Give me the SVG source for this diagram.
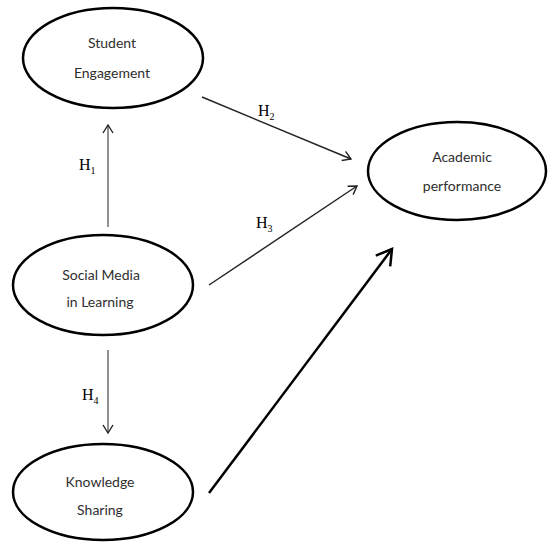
<svg xmlns="http://www.w3.org/2000/svg" width="549" height="543" viewBox="0 0 549 543">
<style>
.node ellipse{fill:#fff;stroke:#000;stroke-width:2.5}
.node text{font-family:Lato,"Open Sans",sans-serif;font-size:14px;fill:#2e2e2e;text-anchor:middle}
.lbl{font-family:"Liberation Serif",serif;font-size:16px;fill:#000}
.sub{font-size:10px}
.c{fill:none;stroke:#222;stroke-width:1.4}
.thin{stroke:#555;stroke-width:1.3}
.thick{stroke:#000;stroke-width:2.5}
</style>
<defs>
<marker id="ah" markerWidth="12" markerHeight="12" refX="10" refY="6" orient="auto" markerUnits="userSpaceOnUse">
<path d="M2,1 L10,6 L2,11" fill="none" stroke="#222" stroke-width="1.4"/>
</marker>
<marker id="ahb" markerWidth="22" markerHeight="22" refX="18" refY="11" orient="auto" markerUnits="userSpaceOnUse">
<path d="M3,2 L18,11 L3,20" fill="none" stroke="#000" stroke-width="2.5"/>
</marker>
</defs>
<rect width="549" height="543" fill="#fff"/>
<g id="connectors">
<line class="c thin" x1="108" y1="227" x2="108" y2="125" marker-end="url(#ah)"/>
<line class="c thin" x1="108" y1="350" x2="108" y2="433" marker-end="url(#ah)"/>
<line class="c" x1="202" y1="97" x2="351" y2="159" marker-end="url(#ah)"/>
<line class="c" x1="209" y1="285" x2="357" y2="186" marker-end="url(#ah)"/>
<line class="c thick" x1="209" y1="493" x2="392" y2="249" marker-end="url(#ahb)"/>
<text class="lbl" x="79" y="170">H<tspan class="sub" dy="4">1</tspan></text>
<text class="lbl" x="258" y="116">H<tspan class="sub" dy="4">2</tspan></text>
<text class="lbl" x="256" y="228">H<tspan class="sub" dy="4">3</tspan></text>
<text class="lbl" x="82" y="400">H<tspan class="sub" dy="4">4</tspan></text>
</g>
<g id="student-engagement" class="node">
<ellipse cx="113" cy="58" rx="90" ry="50"/>
<text x="112" y="48">Student</text>
<text x="112" y="78">Engagement</text>
</g>
<g id="academic-performance" class="node">
<ellipse cx="457" cy="171" rx="89" ry="49"/>
<text x="462" y="162">Academic</text>
<text x="462" y="191">performance</text>
</g>
<g id="social-media" class="node">
<ellipse cx="103" cy="285" rx="90" ry="50"/>
<text x="101" y="280">Social Media</text>
<text x="100" y="307">in Learning</text>
</g>
<g id="knowledge-sharing" class="node">
<ellipse cx="103" cy="492" rx="90" ry="48"/>
<text x="100" y="487">Knowledge</text>
<text x="100" y="515">Sharing</text>
</g>
</svg>
